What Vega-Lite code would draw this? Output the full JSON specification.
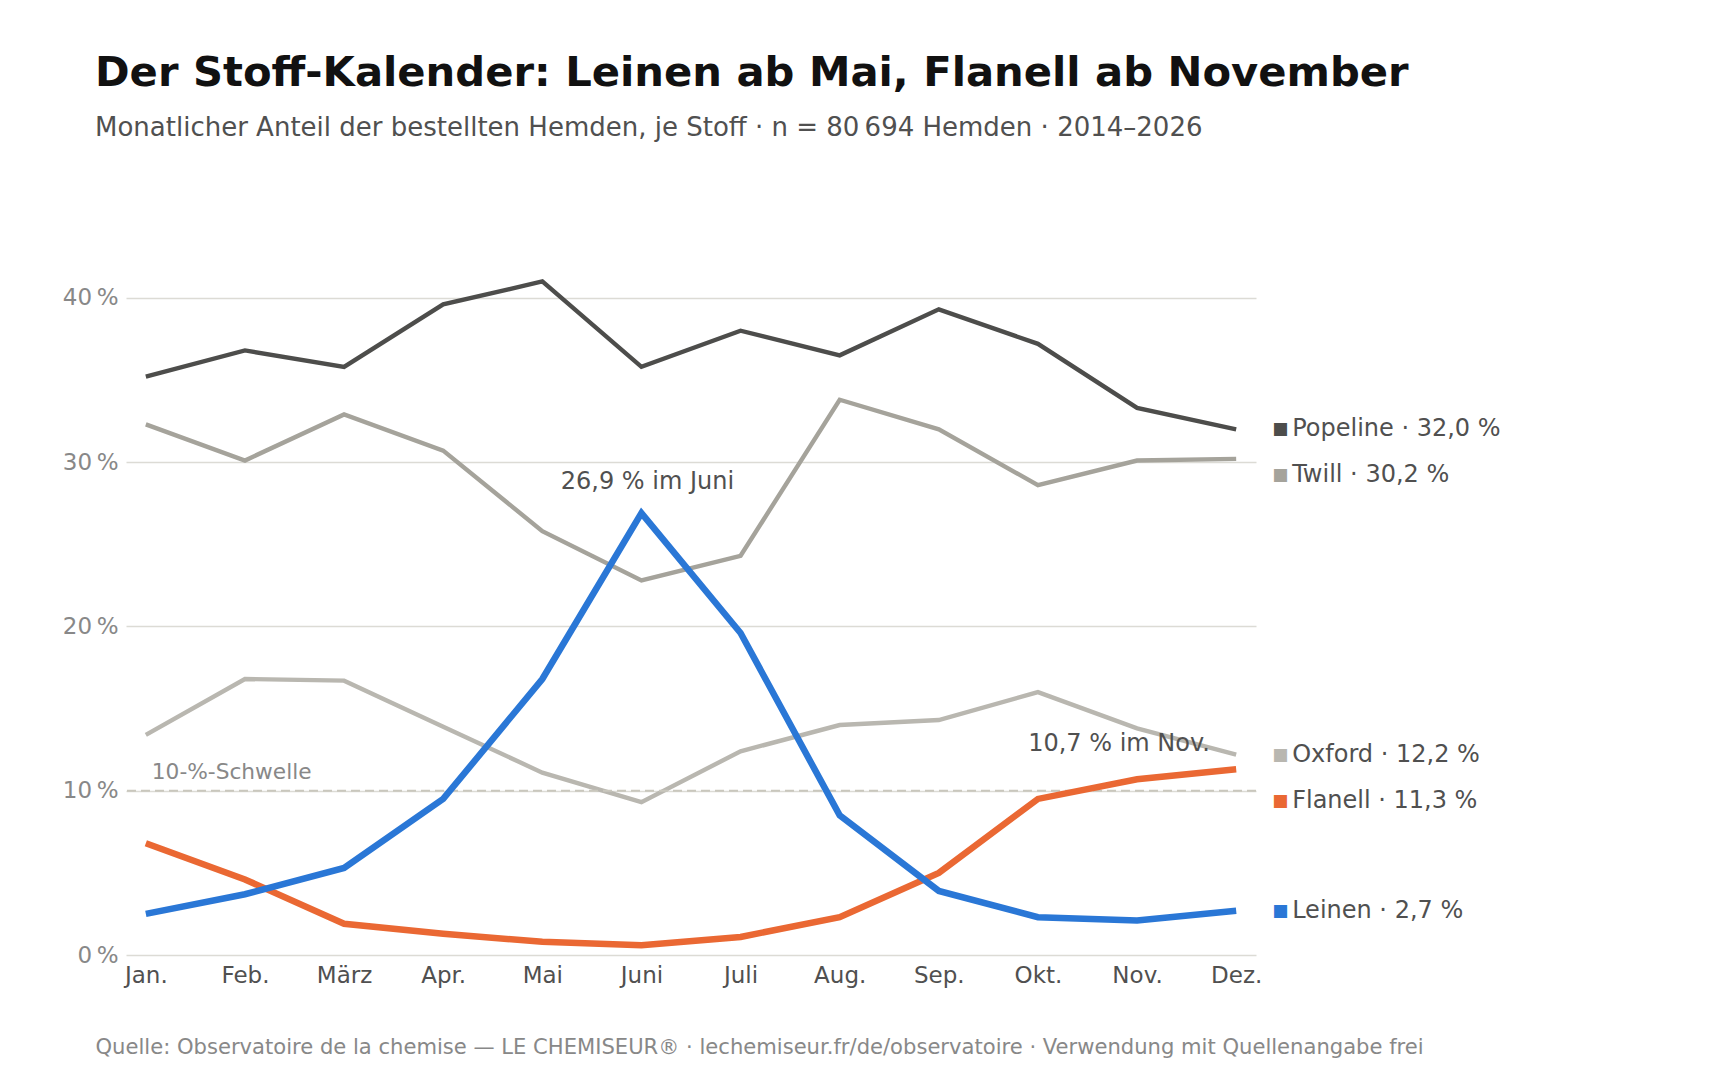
{
  "$schema": "https://vega.github.io/schema/vega-lite/v6.json",
  "width": 1130,
  "height": 690,
  "autosize": {"type": "none"},
  "padding": {"left": 126, "top": 265, "right": 464, "bottom": 125},
  "background": "white",
  "config": {
    "font": "DejaVu Sans",
    "view": {"stroke": null}
  },
  "title": {
    "text": "Der Stoff-Kalender: Leinen ab Mai, Flanell ab November",
    "subtitle": "Monatlicher Anteil der bestellten Hemden, je Stoff · n = 80\u202f694 Hemden · 2014–2026",
    "anchor": "start",
    "frame": "group",
    "dx": -31,
    "offset": 124,
    "fontSize": 41.7,
    "fontWeight": "bold",
    "color": "#111111",
    "subtitleFontSize": 26,
    "subtitleColor": "#505050",
    "subtitlePadding": 20
  },
  "datasets": {
    "main": [
      {"month": "Jan.", "fabric": "Popeline", "value": 35.2},
      {"month": "Feb.", "fabric": "Popeline", "value": 36.8},
      {"month": "März", "fabric": "Popeline", "value": 35.8},
      {"month": "Apr.", "fabric": "Popeline", "value": 39.6},
      {"month": "Mai", "fabric": "Popeline", "value": 41.0},
      {"month": "Juni", "fabric": "Popeline", "value": 35.8},
      {"month": "Juli", "fabric": "Popeline", "value": 38.0},
      {"month": "Aug.", "fabric": "Popeline", "value": 36.5},
      {"month": "Sep.", "fabric": "Popeline", "value": 39.3},
      {"month": "Okt.", "fabric": "Popeline", "value": 37.2},
      {"month": "Nov.", "fabric": "Popeline", "value": 33.3},
      {"month": "Dez.", "fabric": "Popeline", "value": 32.0},
      {"month": "Jan.", "fabric": "Twill", "value": 32.3},
      {"month": "Feb.", "fabric": "Twill", "value": 30.1},
      {"month": "März", "fabric": "Twill", "value": 32.9},
      {"month": "Apr.", "fabric": "Twill", "value": 30.7},
      {"month": "Mai", "fabric": "Twill", "value": 25.8},
      {"month": "Juni", "fabric": "Twill", "value": 22.8},
      {"month": "Juli", "fabric": "Twill", "value": 24.3},
      {"month": "Aug.", "fabric": "Twill", "value": 33.8},
      {"month": "Sep.", "fabric": "Twill", "value": 32.0},
      {"month": "Okt.", "fabric": "Twill", "value": 28.6},
      {"month": "Nov.", "fabric": "Twill", "value": 30.1},
      {"month": "Dez.", "fabric": "Twill", "value": 30.2},
      {"month": "Jan.", "fabric": "Oxford", "value": 13.4},
      {"month": "Feb.", "fabric": "Oxford", "value": 16.8},
      {"month": "März", "fabric": "Oxford", "value": 16.7},
      {"month": "Apr.", "fabric": "Oxford", "value": 13.9},
      {"month": "Mai", "fabric": "Oxford", "value": 11.1},
      {"month": "Juni", "fabric": "Oxford", "value": 9.3},
      {"month": "Juli", "fabric": "Oxford", "value": 12.4},
      {"month": "Aug.", "fabric": "Oxford", "value": 14.0},
      {"month": "Sep.", "fabric": "Oxford", "value": 14.3},
      {"month": "Okt.", "fabric": "Oxford", "value": 16.0},
      {"month": "Nov.", "fabric": "Oxford", "value": 13.8},
      {"month": "Dez.", "fabric": "Oxford", "value": 12.2},
      {"month": "Jan.", "fabric": "Leinen", "value": 2.5},
      {"month": "Feb.", "fabric": "Leinen", "value": 3.7},
      {"month": "März", "fabric": "Leinen", "value": 5.3},
      {"month": "Apr.", "fabric": "Leinen", "value": 9.5},
      {"month": "Mai", "fabric": "Leinen", "value": 16.8},
      {"month": "Juni", "fabric": "Leinen", "value": 26.9},
      {"month": "Juli", "fabric": "Leinen", "value": 19.6},
      {"month": "Aug.", "fabric": "Leinen", "value": 8.5},
      {"month": "Sep.", "fabric": "Leinen", "value": 3.9},
      {"month": "Okt.", "fabric": "Leinen", "value": 2.3},
      {"month": "Nov.", "fabric": "Leinen", "value": 2.1},
      {"month": "Dez.", "fabric": "Leinen", "value": 2.7},
      {"month": "Jan.", "fabric": "Flanell", "value": 6.8},
      {"month": "Feb.", "fabric": "Flanell", "value": 4.6},
      {"month": "März", "fabric": "Flanell", "value": 1.9},
      {"month": "Apr.", "fabric": "Flanell", "value": 1.3},
      {"month": "Mai", "fabric": "Flanell", "value": 0.8},
      {"month": "Juni", "fabric": "Flanell", "value": 0.6},
      {"month": "Juli", "fabric": "Flanell", "value": 1.1},
      {"month": "Aug.", "fabric": "Flanell", "value": 2.3},
      {"month": "Sep.", "fabric": "Flanell", "value": 5.0},
      {"month": "Okt.", "fabric": "Flanell", "value": 9.5},
      {"month": "Nov.", "fabric": "Flanell", "value": 10.7},
      {"month": "Dez.", "fabric": "Flanell", "value": 11.3}
    ],
    "legend": [
      {"fabric": "Popeline", "month": "Dez.", "value": 32.0, "label": "Popeline · 32,0 %", "group": "a"},
      {"fabric": "Twill", "month": "Dez.", "value": 30.2, "label": "Twill · 30,2 %", "group": "b"},
      {"fabric": "Oxford", "month": "Dez.", "value": 12.2, "label": "Oxford · 12,2 %", "group": "a"},
      {"fabric": "Flanell", "month": "Dez.", "value": 11.3, "label": "Flanell · 11,3 %", "group": "c"},
      {"fabric": "Leinen", "month": "Dez.", "value": 2.7, "label": "Leinen · 2,7 %", "group": "a"}
    ],
    "notes": [
      {"month": "Juni", "value": 26.9, "label": "26,9 % im Juni", "kind": "peak"},
      {"month": "Nov.", "value": 10.7, "label": "10,7 % im Nov.", "kind": "nov"},
      {"month": "Jan.", "value": 10, "label": "10-%-Schwelle", "kind": "threshold"}
    ]
  },
  "encoding": {
    "x": {
      "field": "month",
      "type": "ordinal",
      "scale": {"type": "point", "padding": 0.2, "domain": ["Jan.", "Feb.", "März", "Apr.", "Mai", "Juni", "Juli", "Aug.", "Sep.", "Okt.", "Nov.", "Dez."]},
      "axis": {
        "title": "Quelle: Observatoire de la chemise — LE CHEMISEUR® · lechemiseur.fr/de/observatoire · Verwendung mit Quellenangabe frei",
        "titleAnchor": "start",
        "titleAlign": "left",
        "titleX": -31,
        "titleY": 92,
        "titleBaseline": "middle",
        "titleFontSize": 21.1,
        "titleFontWeight": "normal",
        "titleColor": "#888888",
        "labelAngle": 0,
        "labelFontSize": 23,
        "labelColor": "#505050",
        "labelPadding": 9,
        "domain": false,
        "ticks": false,
        "grid": false
      }
    },
    "y": {
      "field": "value",
      "type": "quantitative",
      "scale": {"domain": [0, 42], "nice": false},
      "axis": {
        "title": null,
        "values": [0, 10, 20, 30, 40],
        "labelExpr": "datum.value + '\u202f%'",
        "labelFontSize": 23,
        "labelColor": "#888888",
        "labelPadding": 8,
        "domain": false,
        "ticks": false,
        "grid": true,
        "gridColor": "#dcdbd5",
        "gridWidth": 1.5
      }
    }
  },
  "layer": [
    {
      "data": {"name": "main"},
      "transform": [{"filter": "datum.fabric === 'Popeline' || datum.fabric === 'Twill' || datum.fabric === 'Oxford'"}],
      "mark": {"type": "line", "strokeWidth": 4.4},
      "encoding": {
        "color": {"field": "fabric", "type": "nominal", "legend": null,
          "scale": {"domain": ["Popeline", "Twill", "Oxford", "Leinen", "Flanell"], "range": ["#4d4d4b", "#a5a39b", "#b9b7b0", "#2a77d6", "#ea6833"]}}
      }
    },
    {
      "data": {"values": [{"value": 10}]},
      "mark": {"type": "rule", "color": "#c9c7bd", "strokeWidth": 2, "strokeDash": [9, 5]},
      "encoding": {"x": null, "y": {"field": "value", "type": "quantitative"}}
    },
    {
      "data": {"name": "main"},
      "transform": [{"filter": "datum.fabric === 'Flanell'"}],
      "mark": {"type": "line", "strokeWidth": 6.5},
      "encoding": {
        "color": {"field": "fabric", "type": "nominal", "legend": null}
      }
    },
    {
      "data": {"name": "main"},
      "transform": [{"filter": "datum.fabric === 'Leinen'"}],
      "mark": {"type": "line", "strokeWidth": 6.5},
      "encoding": {
        "color": {"field": "fabric", "type": "nominal", "legend": null}
      }
    },
    {
      "data": {"name": "notes"},
      "transform": [{"filter": "datum.kind === 'peak'"}],
      "mark": {"type": "text", "fontSize": 24, "color": "#505050", "align": "center", "baseline": "middle", "dx": 6, "dy": -31},
      "encoding": {"text": {"field": "label"}}
    },
    {
      "data": {"name": "notes"},
      "transform": [{"filter": "datum.kind === 'nov'"}],
      "mark": {"type": "text", "fontSize": 24, "color": "#505050", "align": "center", "baseline": "middle", "dx": -18, "dy": -35},
      "encoding": {"text": {"field": "label"}}
    },
    {
      "data": {"name": "notes"},
      "transform": [{"filter": "datum.kind === 'threshold'"}],
      "mark": {"type": "text", "fontSize": 21.7, "color": "#888888", "align": "left", "baseline": "middle", "dx": 6, "dy": -19},
      "encoding": {"text": {"field": "label"}}
    },
    {
      "data": {"name": "legend"},
      "transform": [{"filter": "datum.group === 'a'"}],
      "mark": {"type": "text", "fontSize": 17, "align": "center", "baseline": "middle", "dx": 44, "text": "■"},
      "encoding": {"color": {"field": "fabric", "type": "nominal", "legend": null}}
    },
    {
      "data": {"name": "legend"},
      "transform": [{"filter": "datum.group === 'b'"}],
      "mark": {"type": "text", "fontSize": 17, "align": "center", "baseline": "middle", "dx": 44, "dy": 16, "text": "■"},
      "encoding": {"color": {"field": "fabric", "type": "nominal", "legend": null}}
    },
    {
      "data": {"name": "legend"},
      "transform": [{"filter": "datum.group === 'c'"}],
      "mark": {"type": "text", "fontSize": 17, "align": "center", "baseline": "middle", "dx": 44, "dy": 32, "text": "■"},
      "encoding": {"color": {"field": "fabric", "type": "nominal", "legend": null}}
    },
    {
      "data": {"name": "legend"},
      "transform": [{"filter": "datum.group === 'a'"}],
      "mark": {"type": "text", "fontSize": 24, "color": "#505050", "align": "left", "baseline": "middle", "dx": 56},
      "encoding": {"text": {"field": "label"}}
    },
    {
      "data": {"name": "legend"},
      "transform": [{"filter": "datum.group === 'b'"}],
      "mark": {"type": "text", "fontSize": 24, "color": "#505050", "align": "left", "baseline": "middle", "dx": 56, "dy": 16},
      "encoding": {"text": {"field": "label"}}
    },
    {
      "data": {"name": "legend"},
      "transform": [{"filter": "datum.group === 'c'"}],
      "mark": {"type": "text", "fontSize": 24, "color": "#505050", "align": "left", "baseline": "middle", "dx": 56, "dy": 32},
      "encoding": {"text": {"field": "label"}}
    }
  ]
}
